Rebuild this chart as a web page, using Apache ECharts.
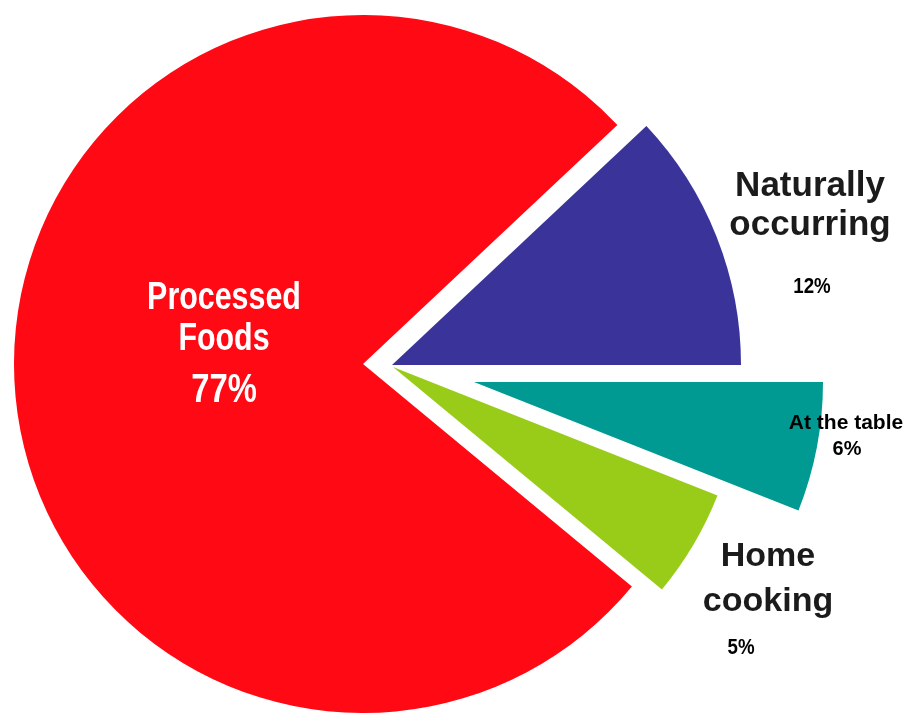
<!DOCTYPE html>
<html>
<head>
<meta charset="utf-8">
<script src="https://cdn.jsdelivr.net/npm/echarts@6/dist/echarts.min.js"></script>
<style>
html,body{margin:0;padding:0;background:#fff;}
#chart{width:908px;height:725px;}
</style>
</head>
<body>
<div id="chart"></div>
<script>
// ---- data ----
var categories = ['Naturally occurring', 'At the table', 'Home cooking', 'Processed Foods'];
var values = [12, 6, 5, 77];

// ---- styling / layout (not data) ----
var colors = ['#39339A', '#009A93', '#99CC19', '#FF0914'];
var baseCenter = [363, 364];
var radius = 349;
// explode offsets per slice (px)
var offsets = [[29, 1], [111, 18], [30, 3], [0, 0]];
var font = "'Liberation Sans',Arial,sans-serif";
var labelSpec = [
  {wrap: true, x: 810, nameY: [186, 225], nameSize: 35, nameScale: 1, nameColor: '#1b1b1b', valX: 812, valY: 287, valSize: 22, valScale: 0.85, valColor: '#000'},
  {wrap: false, x: 846, nameY: [423], nameSize: 21, nameScale: 1, nameColor: '#000', valX: 847, valY: 449, valSize: 21, valScale: 0.95, valColor: '#000'},
  {wrap: true, x: 768, nameY: [557, 602], nameSize: 34, nameScale: 1, nameColor: '#1b1b1b', valX: 741, valY: 648, valSize: 22, valScale: 0.85, valColor: '#000'},
  {wrap: true, x: 224, nameY: [299, 340], nameSize: 38, nameScale: 0.8, nameColor: '#fff', valX: 224, valY: 391, valSize: 40, valScale: 0.82, valColor: '#fff'}
];

var total = values.reduce(function (a, b) { return a + b; }, 0);
var startAngle = values[0] / total * 360;

var series = categories.map(function (cat, i) {
  return {
    type: 'pie',
    name: cat,
    silent: true,
    animation: false,
    radius: radius,
    center: [baseCenter[0] + offsets[i][0], baseCenter[1] + offsets[i][1]],
    startAngle: startAngle,
    clockwise: true,
    avoidLabelOverlap: false,
    label: {show: false},
    labelLine: {show: false},
    emphasis: {disabled: true},
    z: i === 3 ? 1 : 2,
    data: categories.map(function (c, j) {
      return {
        name: c,
        value: values[j],
        itemStyle: {
          color: j === i ? colors[j] : 'rgba(0,0,0,0)',
          borderWidth: 0
        }
      };
    })
  };
});

var graphics = [];
categories.forEach(function (cat, i) {
  var s = labelSpec[i];
  var lines = s.wrap ? cat.split(' ') : [cat];
  lines.forEach(function (ln, k) {
    graphics.push({
      type: 'text', x: s.x, y: s.nameY[k], scaleX: s.nameScale, silent: true, z: 100,
      style: {text: ln, fill: s.nameColor, font: 'bold ' + s.nameSize + 'px ' + font, align: 'center', verticalAlign: 'middle'}
    });
  });
  graphics.push({
    type: 'text', x: s.valX, y: s.valY, scaleX: s.valScale, silent: true, z: 100,
    style: {text: values[i] + '%', fill: s.valColor, font: 'bold ' + s.valSize + 'px ' + font, align: 'center', verticalAlign: 'middle'}
  });
});

var chart = echarts.init(document.getElementById('chart'), null, {renderer: 'canvas'});
chart.setOption({
  backgroundColor: '#fff',
  animation: false,
  tooltip: {show: false},
  legend: {show: false},
  series: series,
  graphic: graphics
});
</script>
</body>
</html>
